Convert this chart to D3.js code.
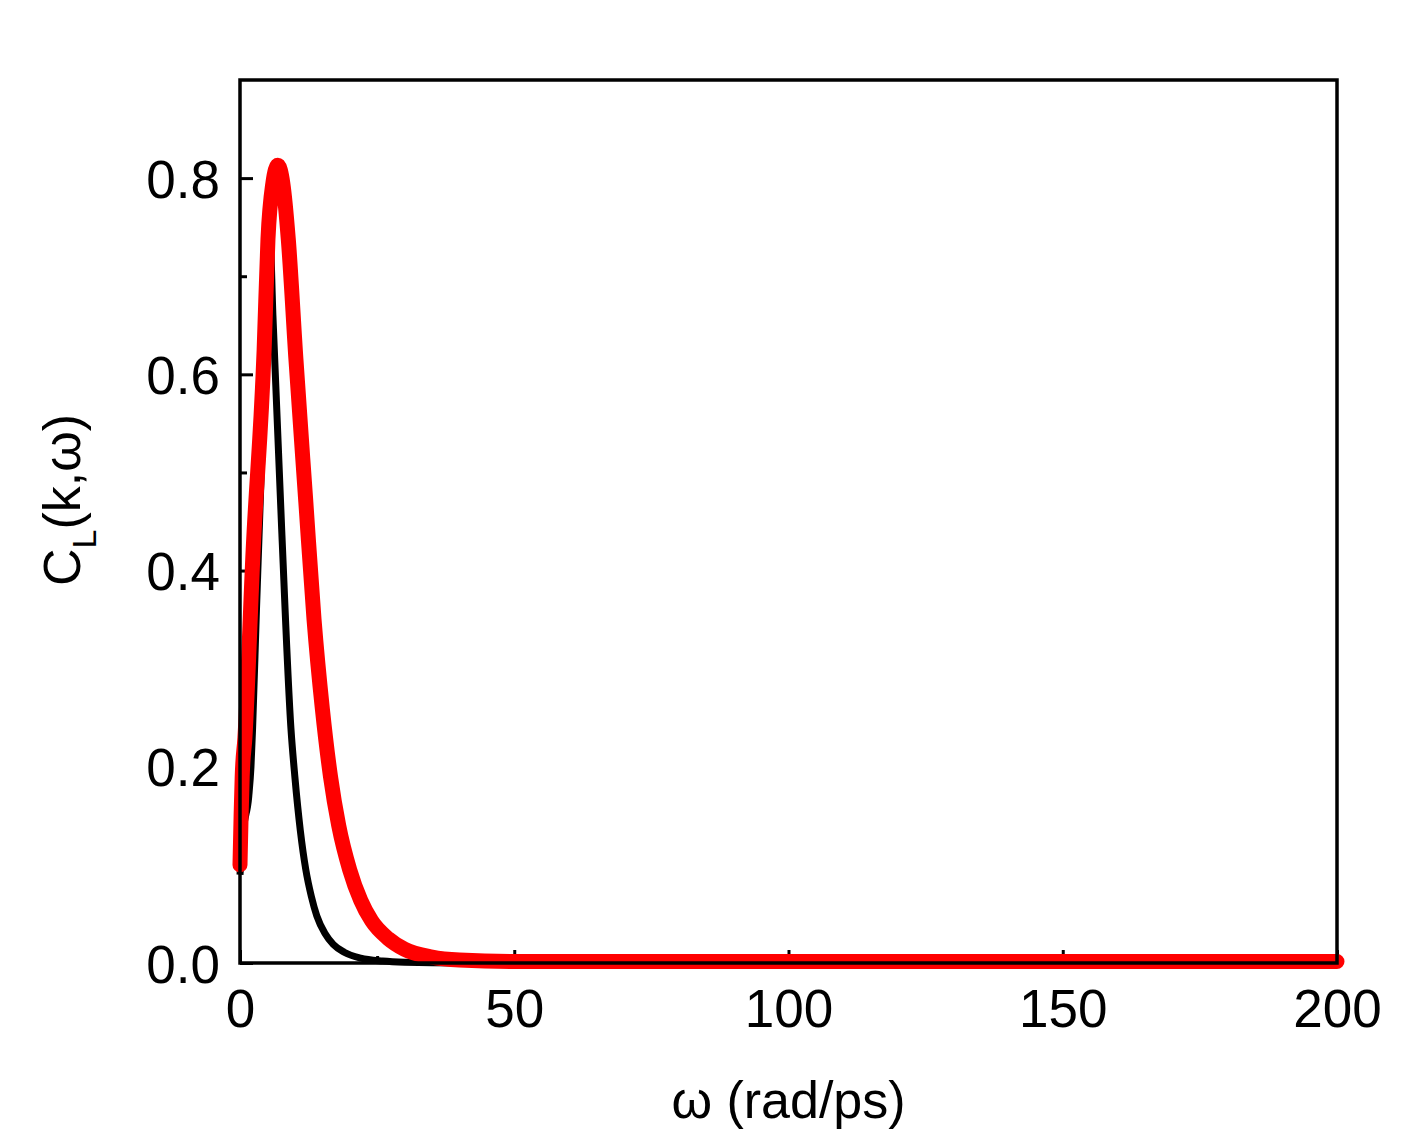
<!DOCTYPE html>
<html>
<head>
<meta charset="utf-8">
<script src="https://cdn.jsdelivr.net/npm/d3@7"></script>
<style>
  body { margin: 0; background: #fff; }
  text { font-family: "Liberation Sans", Arial, sans-serif; fill: #000; }
</style>
</head>
<body>
<svg class="chart" width="1422" height="1146"></svg>
<script>
// values
var blackW = [0, 0.6, 1.6, 2.0, 2.3, 3.0, 4.0, 4.8, 5.4, 6.0, 7.6, 9.3, 10.0, 11.0, 12.0, 13.0, 14.0, 15.5, 17.0, 19.0, 22.0, 26.0, 30.0, 40, 60, 100, 150, 200];
var blackC = [0.09, 0.135, 0.17, 0.2, 0.24, 0.36, 0.52, 0.66, 0.75, 0.66, 0.442, 0.238, 0.19, 0.135, 0.095, 0.068, 0.048, 0.03, 0.019, 0.011, 0.005, 0.002, 0.0008, 0, 0, 0, 0, 0];

var redW = [0, 0.2, 0.4, 0.9, 2.4, 4.4, 5.1, 6.0, 6.9, 7.8, 8.8, 10.2, 12.0, 13.5, 15.0, 16.5, 18.0, 20.0, 22.0, 24.0, 27.0, 30.0, 35.0, 40.0, 50.0, 75, 100, 150, 200];
var redC = [0.1, 0.15, 0.19, 0.23, 0.421, 0.625, 0.738, 0.795, 0.813, 0.795, 0.738, 0.615, 0.47, 0.35, 0.26, 0.19, 0.14, 0.095, 0.064, 0.043, 0.025, 0.014, 0.006, 0.003, 0.0015, 0.0015, 0.0015, 0.0015, 0.0015];

var xTicks = [0, 50, 100, 150, 200];
var xMinor = [25, 75, 125, 175];
var yTicks = [0, 0.2, 0.4, 0.6, 0.8];
var yMinor = [0.1, 0.3, 0.5, 0.7];

var m = {top: 80, left: 240, right: 85, bottom: 183};
var W = 1422 - m.left - m.right, H = 1146 - m.top - m.bottom;

var svg = d3.select('.chart');
var g = svg.append('g').attr('transform', 'translate(' + m.left + ',' + m.top + ')');

var x = d3.scaleLinear().domain([0, 200]).range([0, W]);
var y = d3.scaleLinear().domain([0, 0.9]).range([H, 0]);

// ticks point inward
function tickAxis(axis, vals, len) {
  return axis.tickValues(vals).tickSize(-len).tickSizeOuter(0);
}

var gx = g.append('g').attr('transform', 'translate(0,' + H + ')')
  .call(tickAxis(d3.axisBottom(x), xTicks, 13).tickFormat(d3.format('d')).tickPadding(26));
var gxm = g.append('g').attr('transform', 'translate(0,' + H + ')')
  .call(tickAxis(d3.axisBottom(x), xMinor, 7).tickFormat(''));
var gy = g.append('g')
  .call(tickAxis(d3.axisLeft(y), yTicks, 13).tickFormat(d3.format('.1f')).tickPadding(20));
var gym = g.append('g')
  .call(tickAxis(d3.axisLeft(y), yMinor, 7).tickFormat(''));

[gx, gxm, gy, gym].forEach(function(a) {
  a.select('.domain').remove();
  a.selectAll('line').attr('stroke', '#000').attr('stroke-width', 3);
  a.selectAll('text').style('font-size', '53px').style('font-family', '"Liberation Sans", Arial, sans-serif');
});
gx.selectAll('text').attr('dy', '0.71em');
gy.selectAll('text').attr('dy', '0.36em');

var line = d3.line()
  .x(function(d) { return x(d[0]); })
  .y(function(d) { return y(d[1]); })
  .curve(d3.curveMonotoneX);

g.append('path')
  .datum(d3.zip(blackW, blackC))
  .attr('d', line).attr('fill', 'none').attr('stroke', '#000')
  .attr('stroke-width', 7).attr('stroke-linejoin', 'round');

g.append('path')
  .datum(d3.zip(redW, redC))
  .attr('d', line).attr('fill', 'none').attr('stroke', '#ff0000')
  .attr('stroke-width', 15).attr('stroke-linejoin', 'round').attr('stroke-linecap', 'round');

// frame
g.append('rect').attr('width', W).attr('height', H)
  .attr('fill', 'none').attr('stroke', '#000').attr('stroke-width', 3.5);

// axis titles
svg.append('text')
  .attr('x', m.left + W / 2).attr('y', 1118)
  .attr('text-anchor', 'middle').style('font-size', '52px')
  .text('\u03c9 (rad/ps)');

var yl = svg.append('text')
  .attr('transform', 'translate(80,500) rotate(-90)')
  .attr('text-anchor', 'middle').style('font-size', '52px');
yl.append('tspan').text('C');
yl.append('tspan').attr('dy', 16).style('font-size', '34px').text('L');
yl.append('tspan').attr('dy', -16).text('(k,\u03c9)');
</script>
</body>
</html>
